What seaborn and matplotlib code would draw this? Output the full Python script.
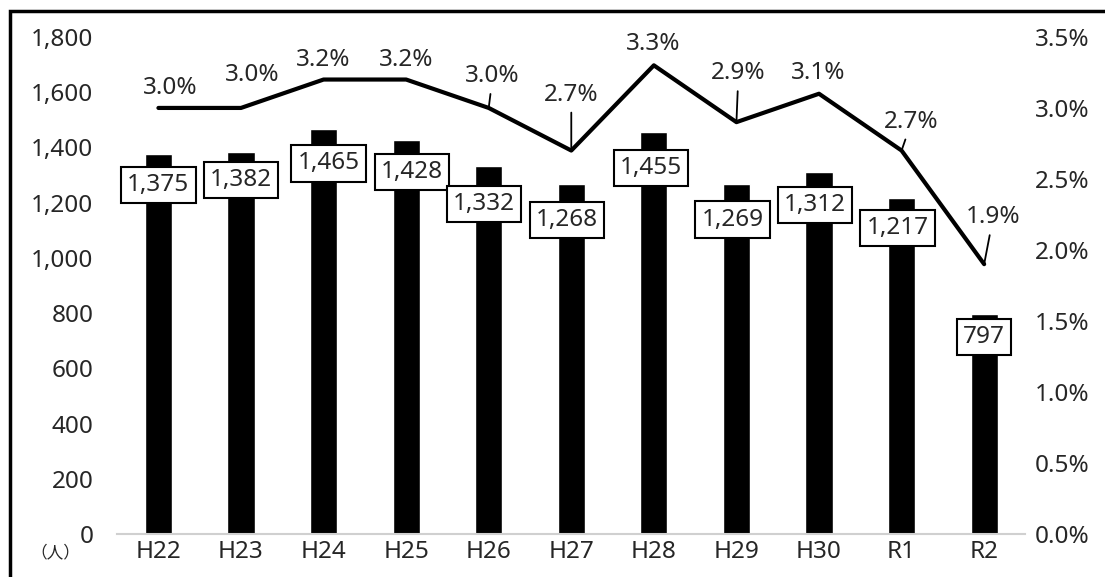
import numpy as np
import pandas as pd
import matplotlib
matplotlib.use("Agg")
import matplotlib.pyplot as plt
import seaborn as sns
from matplotlib.patches import Rectangle

# datos
years = ["H22", "H23", "H24", "H25", "H26", "H27", "H28", "H29", "H30", "R1", "R2"]
persons = [1375, 1382, 1465, 1428, 1332, 1268, 1455, 1269, 1312, 1217, 797]
rate = [3.0, 3.0, 3.2, 3.2, 3.0, 2.7, 3.3, 2.9, 3.1, 2.7, 1.9]

# desplazamientos de etiquetas (pixeles)
bar_lab_off = [(0, -31), (0, -28), (5, -34), (6, -32), (-5, -38), (-4, -36),
               (-3, -36), (-4, -36), (-4, -33), (-4, -30), (0, -23)]
pct_lab_off = [(12, 20), (11, 33), (0, 20), (0, 20), (4, 32), (0, 56),
               (-1, 21), (2, 49), (-1, 21), (10, 29), (9, 47)]
leader = [False, False, False, False, True, True, False, True, False, True, True]

sns.set_theme(style="white")
plt.rcParams["font.family"] = ["Noto Sans", "Noto Sans CJK JP", "DejaVu Sans"]
FS = 17.5

df = pd.DataFrame({"year": years, "persons": persons, "rate": rate})

fig = plt.figure(figsize=(11.05, 5.77), dpi=100)
ax = fig.add_axes([0.106, 0.0745, 0.822, 0.8615])

sns.barplot(data=df, x="year", y="persons", color="black", width=0.33,
            saturation=1, ax=ax)
ax.set_ylim(0, 1800)
ax.set_yticks(range(0, 1801, 200))
ax.set_yticklabels([f"{v:,}" for v in range(0, 1801, 200)], fontsize=FS)
ax.set_xlabel("")
ax.set_ylabel("")
ax.tick_params(axis="x", labelsize=FS, length=0, pad=4)
ax.tick_params(axis="y", length=0, pad=17)
for s in ["top", "right", "left"]:
    ax.spines[s].set_visible(False)
ax.spines["bottom"].set_color("#d0d0d0")
ax.spines["bottom"].set_linewidth(1.5)

for i, v in enumerate(persons):
    ax.annotate(f"{v:,}", (i, v), xytext=bar_lab_off[i], textcoords="offset pixels",
                ha="center", va="center", fontsize=FS,
                bbox=dict(boxstyle="square,pad=0.25", fc="white", ec="black", lw=1.5))

ax2 = ax.twinx()
sns.lineplot(data=df, x="year", y="rate", color="black", linewidth=3,
             sort=False, ax=ax2)
ax2.set_ylim(0, 3.5)
ax2.set_yticks(np.arange(0, 3.51, 0.5))
ax2.set_yticklabels([f"{v:.1f}%" for v in np.arange(0, 3.51, 0.5)], fontsize=FS)
ax2.set_ylabel("")
ax2.tick_params(axis="y", length=0, pad=7)
for s in ax2.spines.values():
    s.set_visible(False)
ax2.set_xlim(-0.5, len(years) - 0.5)

for i, r in enumerate(rate):
    dx, dy = pct_lab_off[i]
    ap = dict(arrowstyle="-", color="black", lw=1.3, shrinkA=2, shrinkB=0) if leader[i] else None
    ax2.annotate(f"{r:.1f}%", (i, r), xytext=(dx, dy), textcoords="offset pixels",
                 ha="center", va="center", fontsize=FS, arrowprops=ap)

fig.text(55 / 1105, 1 - 553 / 577, "（人）", fontsize=12, ha="center", va="center",
         family=["Noto Sans CJK JP", "DejaVu Sans"])

fig.patches.append(Rectangle((10 / 1105, -0.05), 1.2, 1.05 - 11 / 577,
                             transform=fig.transFigure, fill=False,
                             ec="black", lw=2.5))

fig.savefig("out.png", dpi=100)
